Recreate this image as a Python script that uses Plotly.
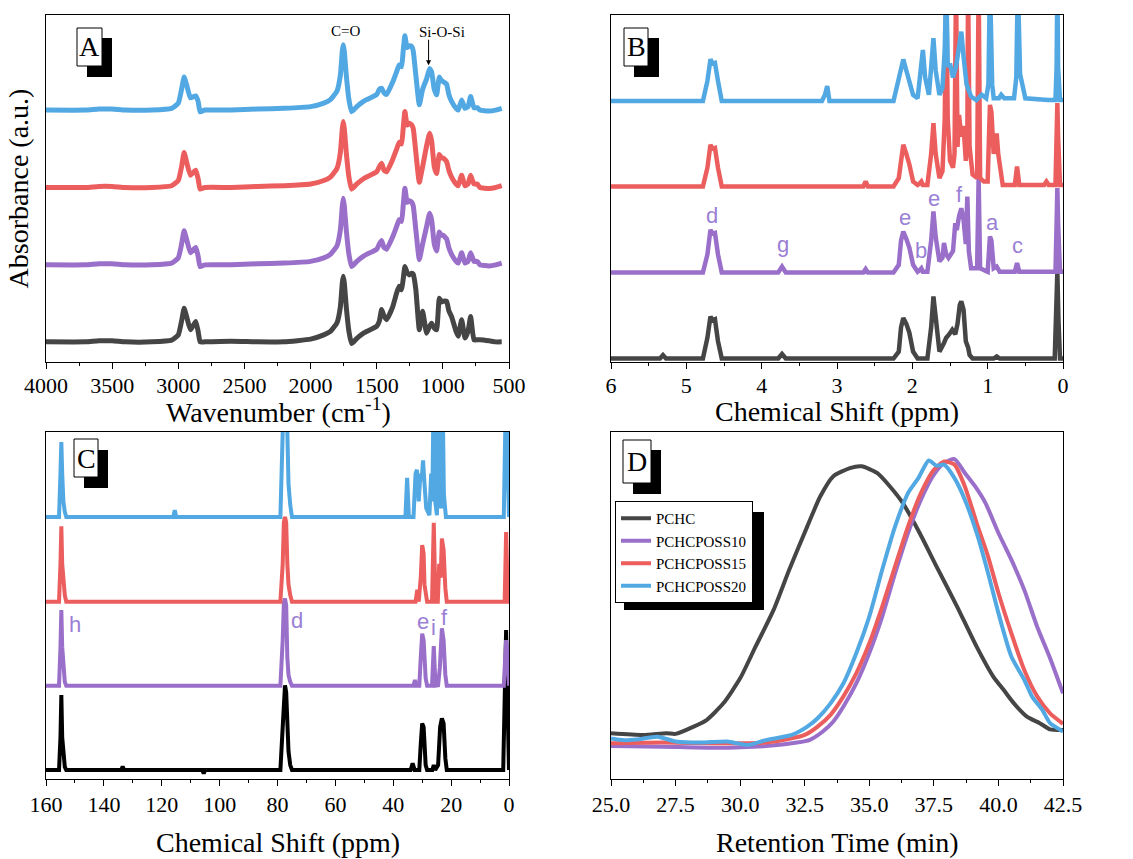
import plotly.graph_objects as go

W, H = 1133, 859

# ---------------- Panel A: FTIR ----------------
ftir_wn = [4000, 3700, 3600, 3500, 3400, 3200, 3050, 3000, 2975, 2956, 2935, 2908, 2868, 2850, 2835,
           2800, 2600, 2400, 2200, 2000, 1900, 1850, 1800, 1775, 1760, 1753, 1745, 1730, 1710, 1690,
           1650, 1600, 1577, 1500, 1480, 1463, 1445, 1425, 1380, 1350, 1330, 1312, 1300, 1287, 1270,
           1254, 1235, 1224, 1204, 1178, 1153, 1123, 1100, 1085, 1065, 1047, 1027, 1010, 997, 972,
           955, 934, 900, 884, 858, 833, 810, 790, 765, 740, 720, 650, 600, 555]
ftir_pchc = [0, 0, 0.3, 0.3, 0, 0, 0.5, 2, 6, 9.7, 7, 3.5, 5.9, 3, 0,
             0, 0.2, 0, 0, 0.8, 2, 3, 5.5, 10, 17, 18.9, 17, 10, 3, -0.5,
             1, 2.5, 3, 4.5, 6, 9.3, 7.5, 6.4, 10, 14, 16, 15, 18, 21.7, 20,
             19.3, 19.8, 19.5, 15, 3.5, 8.8, 2.5, 4.5, 5.4, 4, 3.5, 12.6, 11.5, 11.7, 11.7,
             9, 7.3, 3, 1.6, 6.4, 1.1, 3, 7.3, 0.6, 0.6, 0.6, 0.3, 0, 0]
ftir_poss10 = [0, 0, 0.3, 0.3, 0, 0, 0.5, 2, 6, 9.8, 7, 3.5, 5.0, 2.5, -0.5,
               0, 0, 0.3, 0.5, 1, 2, 3, 5.5, 10, 17, 19.2, 17, 10, 3, -0.5,
               1, 2.5, 3, 4.5, 6, 7.0, 5, 4.5, 8, 11, 13, 12.5, 17, 22.1, 18,
               18.5, 18, 17, 10, 1.5, 6, 11, 14.9, 13, 6, 4, 9.5, 8.5, 8.5, 7.5,
               5, 3, 1, 0.5, 3.5, 0.5, 1, 3.5, 1, 1, 0, -0.3, 0, 0.5]
ftir_poss15 = [0, 0, 0.3, 0.3, 0, 0, 0.5, 2, 6, 10.1, 7, 3.5, 5.0, 2.5, -0.5,
               0, 0, 0.3, 0.5, 1, 2, 3, 5.5, 10, 17, 19.0, 17, 10, 3, -0.5,
               1, 2.5, 3, 4.5, 6, 7.0, 5, 4.5, 8, 11, 13, 12.5, 17, 21.9, 18,
               18.5, 18, 17, 10, 1.5, 6, 12, 15.6, 13.5, 6, 4, 9.5, 8.5, 8.5, 7.5,
               5, 3, 1, 0.5, 3.5, 0.5, 1, 3.5, 1, 1, 0, -0.3, 0, 0.5]
ftir_poss20 = [0, 0, 0.3, 0.3, 0, 0, 0.5, 2, 6, 9.5, 7, 3.5, 4.1, 2.5, -0.5,
               0, 0, 0.3, 0.5, 1, 2, 3, 5.5, 10, 17, 18.8, 17, 10, 3, -0.5,
               1, 2.5, 3, 4.5, 6, 6.3, 5, 4.5, 8, 11, 13, 12.5, 17, 21.4, 18,
               18.5, 18.3, 17, 10, 1.5, 6, 9, 12.0, 11, 6, 4.4, 9.5, 8.5, 8.2, 7.5,
               4.5, 2.5, 0.5, 0, 2.9, 0.5, 1, 3.9, 0.7, 0.7, 0, -0.3, 0, 0.5]
ftir_offsets = [5.8, 28.0, 50.3, 72.6]   # stacking baselines (PCHC, POSS10, POSS15, POSS20)

# ---------------- Panel B: 1H NMR ----------------
hB_gray_x = [6.0, 5.35, 5.31, 5.27, 4.78, 4.72, 4.68, 4.65, 4.62, 4.58, 4.53, 3.78, 3.73, 3.68,
             2.25, 2.18, 2.15, 2.12, 2.08, 2.04, 1.99, 1.93, 1.80, 1.75, 1.72, 1.69, 1.64, 1.58,
             1.55, 1.51, 1.47, 1.43, 1.40, 1.37, 1.35, 1.32, 1.29, 1.26, 1.24, 1.20, 0.92, 0.88,
             0.84, 0.11, 0.09, 0.075, 0.06, 0.04, 0.0]
hB_gray_y = [1.0, 1.0, 2.0, 1.0, 1.0, 7, 13.1, 12, 12.3, 6, 1.0, 1.0, 2.3, 1.0,
             1.0, 3, 10, 12.7, 11, 8.5, 3, 1.0, 1.0, 10, 18.9, 12, 3, 5.5,
             7, 8, 9.3, 8, 11, 16.5, 17.5, 15, 6, 4.2, 2, 1.0, 1.0, 1.6,
             1.0, 1.0, 12, 26, 12, 1.0, 1.0]
hB_purple_x = [6.0, 4.78, 4.72, 4.68, 4.65, 4.62, 4.58, 4.53, 3.78, 3.73, 3.68, 2.65, 2.62, 2.59,
               2.25, 2.18, 2.15, 2.12, 2.08, 2.04, 1.99, 1.93, 1.90, 1.88, 1.86, 1.80, 1.75, 1.72,
               1.69, 1.64, 1.60, 1.58, 1.55, 1.52, 1.49, 1.46, 1.43, 1.41, 1.38, 1.35, 1.32, 1.29,
               1.27, 1.25, 1.22, 1.14, 1.12, 1.10, 1.00, 0.97, 0.95, 0.92, 0.88, 0.84, 0.64, 0.61,
               0.58, 0.10, 0.085, 0.075, 0.065, 0.04, 0.0]
hB_purple_y = [25.8, 25.8, 31, 38.1, 37, 37.2, 31, 25.8, 25.8, 27.5, 25.8, 25.8, 26.8, 25.8,
               25.8, 28, 35, 37.6, 35.5, 33, 28, 26, 26.5, 27, 26, 26, 35, 43.4,
               36, 29, 30, 34.3, 31, 30, 31, 32, 40, 38, 42, 44.3, 41, 34,
               47.7, 32, 27, 27, 53, 27, 26, 36.2, 35, 27, 27.5, 26, 26, 28.5,
               26, 26, 40, 50.1, 40, 26, 26]
hB_red_x = [6.0, 4.78, 4.72, 4.68, 4.65, 4.62, 4.58, 4.53, 2.65, 2.62, 2.59, 2.25, 2.18, 2.15,
            2.12, 2.08, 2.04, 1.99, 1.93, 1.90, 1.88, 1.86, 1.80, 1.75, 1.72, 1.69, 1.64, 1.60,
            1.57, 1.55, 1.53, 1.50, 1.46, 1.44, 1.42, 1.40, 1.38, 1.35, 1.32, 1.29, 1.27, 1.26,
            1.24, 1.20, 1.14, 1.12, 1.10, 1.05, 1.00, 0.97, 0.95, 0.92, 0.90, 0.88, 0.86, 0.84,
            0.80, 0.64, 0.61, 0.58, 0.25, 0.22, 0.19, 0.10, 0.085, 0.075, 0.065, 0.04, 0.0]
hB_red_y = [50.6, 50.6, 56, 62.6, 61.5, 61.7, 56, 50.6, 50.6, 52, 50.6, 50.6, 53, 59,
            62.6, 60, 57, 52, 51, 51.5, 52, 51, 51, 60, 68.8, 60, 53, 55,
            70, 110, 70, 58, 56, 60, 110, 62, 71.2, 65, 68, 58, 64, 110,
            62, 54, 53, 110, 53, 52, 52, 74.1, 72, 60, 64, 65.9, 60, 56,
            51, 51, 56.3, 51, 51, 52, 51, 51, 65, 74.6, 65, 51, 51]
hB_blue_x = [6.0, 4.78, 4.72, 4.68, 4.65, 4.62, 4.58, 4.53, 3.20, 3.16, 3.13, 3.10, 2.25, 2.19,
             2.16, 2.12, 2.08, 2.04, 1.99, 1.93, 1.89, 1.86, 1.83, 1.78, 1.75, 1.72, 1.69, 1.64,
             1.60, 1.57, 1.55, 1.53, 1.50, 1.46, 1.42, 1.38, 1.35, 1.32, 1.28, 1.22, 1.15, 1.08,
             1.02, 0.99, 0.97, 0.94, 0.92, 0.85, 0.82, 0.78, 0.65, 0.62, 0.60, 0.57, 0.54, 0.50,
             0.20, 0.10, 0.085, 0.075, 0.065, 0.04, 0.0]
hB_blue_y = [75.2, 75.2, 81, 87.2, 86, 86.2, 81, 75.2, 75.2, 77, 79.5, 75.2, 75.2, 81,
             84, 87.2, 84, 81, 77, 76, 85, 89.9, 82, 77, 85, 93.3, 84, 77,
             79, 90, 110, 85, 86, 82, 85, 90, 95.2, 88, 80, 76.5, 75.5, 77,
             76, 80, 110, 80, 76, 76, 77, 76, 76, 82, 110, 83, 80, 76,
             75.5, 75.5, 85, 110, 85, 75.5, 75.5]
hB_labels = ["d", "g", "e", "b", "e", "f", "a", "c"]
hB_label_x = [4.66, 3.72, 2.10, 1.88, 1.71, 1.37, 0.94, 0.60]
hB_label_y = [42.1, 33.8, 41.5, 32.2, 47.2, 48.2, 40.2, 33.5]

# ---------------- Panel C: 13C NMR ----------------
cC_black_x = [160, 155.5, 155.0, 154.7, 154.4, 154.0, 153.5, 153.0, 134, 133.5, 133, 106, 105.5, 105,
              79, 78.2, 77.8, 77.4, 77.0, 76.6, 76.2, 75.6, 75.0, 34, 33.3, 32.6, 31, 30.5,
              30.0, 29.5, 29.2, 28.8, 28.3, 26.5, 26.0, 25.5, 24.5, 23.8, 23.2, 22.6, 22.0, 21.5,
              2.0, 1.3, 1.0, 0.7, 0.3, 0]
cC_black_y = [2.6, 2.6, 12, 24.2, 12, 6, 3.5, 2.6, 2.6, 3.6, 2.6, 2.6, 1.6, 2.6,
              2.6, 15, 25, 27, 25, 15, 8, 4, 2.6, 2.6, 4.5, 2.6, 2.6, 10,
              16, 15, 9, 4, 2.6, 2.6, 4, 2.6, 4, 15, 17.5, 16, 6, 2.6,
              2.6, 30, 42.9, 30, 2.6, 2.6]
cC_purple_x = [160, 155.5, 155.0, 154.7, 154.4, 154.0, 153.5, 153.0, 79, 78.2, 77.8, 77.4, 77.0, 76.6,
               76.2, 75.6, 75.0, 33, 32.5, 32, 31, 30.5, 30.0, 29.5, 29.2, 28.8, 28.3, 26.6,
               26.0, 25.4, 24.5, 23.9, 23.2, 22.6, 22.0, 21.5, 1.8, 1.3, 1.0, 0.7, 0.2, 0]
cC_purple_y = [26.9, 26.9, 38, 48.7, 38, 31, 28, 26.9, 26.9, 40, 51, 52, 50, 35,
               30, 28, 26.9, 26.9, 28.5, 26.9, 26.9, 35, 41.9, 40, 33, 29, 26.9, 26.9,
               38.3, 26.9, 27, 32, 43.4, 40, 30, 26.9, 26.9, 38, 40, 38, 26.9, 26.9]
cC_red_x = [160, 155.5, 155.0, 154.7, 154.4, 154.0, 153.5, 153.0, 79, 78.2, 77.8, 77.4, 77.0, 76.6,
            76.2, 75.6, 75.0, 32.3, 31.7, 31.2, 30.5, 30.0, 29.5, 29.2, 28.8, 28.3, 26.6, 26.0,
            25.4, 24.6, 24.1, 23.6, 23.2, 22.6, 22.0, 21.5, 1.5, 1.2, 1.0, 0.8, 0.4, 0]
cC_red_y = [51.1, 51.1, 62, 72.8, 62, 56, 53, 51.1, 51.1, 62, 74, 75.5, 74, 62,
            56, 53, 51.1, 51.1, 54.5, 51.1, 58, 67.4, 65, 56, 53, 51.1, 51.1, 73.8,
            51.1, 51.1, 62, 58, 69.3, 66, 55, 51.1, 51.1, 65, 71.2, 65, 51.1, 51.1]
cC_blue_x = [160, 155.5, 155.0, 154.7, 154.4, 154.0, 153.5, 153.0, 116, 115.5, 115, 79, 78.2, 77.8,
             77.4, 77.0, 76.6, 76.2, 75.6, 75.0, 35.8, 35.2, 34.6, 33.0, 32.3, 31.8, 31.2, 30.6,
             30.2, 29.7, 29.2, 28.6, 27.5, 26.9, 26.5, 26.0, 25.5, 24.9, 24.4, 23.9, 23.4, 23.0,
             22.5, 21.8, 1.8, 1.3, 1.0, 0.7, 0.2, 0]
cC_blue_y = [75.5, 75.5, 88, 97.1, 88, 80, 77, 75.5, 75.5, 77.5, 75.5, 75.5, 100, 115,
             115, 115, 100, 85, 79, 75.5, 75.5, 86.8, 75.5, 75.5, 88, 89.1, 80, 88,
             86, 91.8, 85, 78, 76, 88, 80, 115, 80, 76, 115, 80, 78, 115,
             82, 75.5, 75.5, 100, 115, 100, 75.5, 75.5]
cC_labels = ["h", "d", "e", "i", "f"]
cC_label_x = [150.1, 73.4, 29.6, 26.0, 22.4]
cC_label_y = [44.6, 45.8, 45.3, 43.6, 46.5]

# ---------------- Panel D: GPC ----------------
gpc_names = ["PCHC", "PCHCPOSS10", "PCHCPOSS15", "PCHCPOSS20"]
gpc_pchc_t = [25.0, 26.25, 27.15, 27.5, 28.2, 28.7, 29.35, 30.0, 30.6, 31.3, 31.9, 32.6, 33.1, 33.6,
              34.25, 34.7, 35.3, 35.8, 36.3, 36.95, 37.6, 38.4, 39.15, 39.8, 40.2, 40.6, 41.1, 41.6,
              42.0, 42.5]
gpc_pchc_y = [13.2, 12.7, 13.2, 13.0, 15.1, 17.0, 21.8, 29.0, 38.2, 48.8, 60.3, 72.8, 81.4, 87.2,
              89.6, 90.1, 88.2, 84.3, 79.5, 70.9, 61.3, 49.7, 38.2, 29.5, 25.7, 21.8, 18.0, 16.1,
              14.3, 14.1]
gpc_p10_t = [25.0, 27.0, 29.0, 31.0, 32.2, 32.7, 33.2, 33.6, 34.0, 34.5, 35.0, 35.5, 36.0, 36.5,
             37.0, 37.5, 37.9, 38.3, 38.7, 39.1, 39.5, 40.0, 40.5, 41.0, 41.5, 42.0, 42.5]
gpc_p10_y = [9.5, 9.3, 9.0, 9.5, 10.5, 11.3, 13.7, 16.5, 20.9, 27.6, 36.3, 46.8, 59.3, 70.9,
             80.5, 87.7, 91.1, 92.2, 88.2, 84.3, 79.5, 70.9, 63.2, 54.5, 43.9, 34.8, 24.7]
gpc_p15_t = [25.0, 27.0, 29.0, 31.0, 32.0, 32.5, 33.0, 33.5, 34.0, 34.5, 35.0, 35.5, 36.0, 36.5,
             37.0, 37.5, 37.9, 38.3, 38.7, 39.2, 39.6, 40.0, 40.5, 41.0, 41.5, 42.0, 42.5]
gpc_p15_y = [10.3, 10.5, 10.3, 10.5, 11.7, 12.7, 15.1, 18.5, 23.8, 30.5, 39.1, 49.7, 61.3, 72.8,
             82.4, 89.1, 91.5, 90.6, 84.3, 72.8, 64.1, 53.6, 42.0, 31.4, 23.8, 18.9, 15.9]
gpc_p20_t = [25.0, 25.5, 26.0, 26.8, 27.5, 28.5, 29.5, 30.3, 31.0, 32.0, 32.6, 33.0, 33.5, 34.0,
             34.5, 35.0, 35.5, 36.0, 36.5, 36.9, 37.3, 37.6, 37.9, 38.3, 38.7, 39.2, 39.6, 40.0,
             40.5, 41.0, 41.3, 41.7, 42.0, 42.5]
gpc_p20_y = [11.7, 11.2, 11.4, 12.2, 10.8, 10.5, 10.8, 9.8, 11.2, 12.7, 15.1, 17.5, 21.8, 27.6,
             36.3, 46.8, 60.3, 72.8, 82.4, 86.7, 91.8, 90.3, 90.6, 86.7, 80.5, 69.9, 59.3, 47.8,
             35.3, 28.6, 23.8, 19.9, 16.1, 13.7]

# ---------------- styling ----------------
C_GRAY = "#454545"
C_PURPLE = "#9a6fca"
C_RED = "#ec5e5e"
C_BLUE = "#52a8e2"
C_BLACK = "#000000"
C_LABEL = "#9a80d4"
SERIF = "Liberation Serif, Times New Roman, serif"
SANS = "Liberation Sans, Arial, sans-serif"


def pdom(x0, x1, y0, y1):
    return [x0 / W, x1 / W], [1 - y1 / H, 1 - y0 / H]


def ppt(x, y):
    return x / W, 1 - y / H


fig = go.Figure()

axA_x, axA_y = pdom(46, 509, 15, 362)
axB_x, axB_y = pdom(611, 1063, 15, 362)
axC_x, axC_y = pdom(46, 509, 432, 779)
axD_x, axD_y = pdom(611, 1063, 432, 779)

# Panel A traces
for ys, off, col in [(ftir_pchc, ftir_offsets[0], C_GRAY), (ftir_poss10, ftir_offsets[1], C_PURPLE),
                     (ftir_poss15, ftir_offsets[2], C_RED), (ftir_poss20, ftir_offsets[3], C_BLUE)]:
    fig.add_trace(go.Scatter(x=ftir_wn, y=[v + off for v in ys], mode="lines",
                             line=dict(color=col, width=5, shape="spline", smoothing=0.4),
                             showlegend=False, xaxis="x", yaxis="y"))

# Panel B traces
for xs, ys, col in [(hB_gray_x, hB_gray_y, C_GRAY), (hB_purple_x, hB_purple_y, C_PURPLE),
                    (hB_red_x, hB_red_y, C_RED), (hB_blue_x, hB_blue_y, C_BLUE)]:
    fig.add_trace(go.Scatter(x=xs, y=ys, mode="lines", line=dict(color=col, width=4.5),
                             showlegend=False, xaxis="x2", yaxis="y2"))

# Panel C traces
for xs, ys, col in [(cC_black_x, cC_black_y, C_BLACK), (cC_purple_x, cC_purple_y, C_PURPLE),
                    (cC_red_x, cC_red_y, C_RED), (cC_blue_x, cC_blue_y, C_BLUE)]:
    fig.add_trace(go.Scatter(x=xs, y=ys, mode="lines", line=dict(color=col, width=4),
                             showlegend=False, xaxis="x3", yaxis="y3"))

# Panel D traces
for name, xs, ys, col in [(gpc_names[0], gpc_pchc_t, gpc_pchc_y, C_GRAY),
                          (gpc_names[1], gpc_p10_t, gpc_p10_y, C_PURPLE),
                          (gpc_names[2], gpc_p15_t, gpc_p15_y, C_RED),
                          (gpc_names[3], gpc_p20_t, gpc_p20_y, C_BLUE)]:
    fig.add_trace(go.Scatter(x=xs, y=ys, mode="lines", name=name,
                             line=dict(color=col, width=4, shape="spline", smoothing=0.6),
                             xaxis="x4", yaxis="y4"))

tickfont = dict(family=SERIF, size=22, color="black")
titlefont = dict(family=SERIF, size=28, color="black")


def xax(dom, rng, dtick, mdtick, anchor, fmt=None, lblshift=0):
    d = dict(domain=dom, range=rng, anchor=anchor, showline=True, mirror=True,
             linecolor="black", linewidth=1, ticks="outside", ticklen=6, tickwidth=1,
             tickcolor="black", dtick=dtick, tick0=0, showgrid=False, zeroline=False,
             automargin=False, tickfont=tickfont, ticklabelstandoff=lblshift,
             minor=dict(ticks="outside", ticklen=3, dtick=mdtick, tickcolor="black", showgrid=False))
    if fmt:
        d["tickformat"] = fmt
    return d


def yax(dom, anchor, title=None):
    d = dict(domain=dom, range=[0, 100], anchor=anchor, showline=True, mirror=True,
             linecolor="black", linewidth=1, ticks="", showticklabels=False,
             showgrid=False, zeroline=False, automargin=False)
    if title:
        d["title"] = dict(text=title, font=titlefont, standoff=8)
    return d


fig.update_layout(
    width=W, height=H, margin=dict(l=0, r=0, t=0, b=0, autoexpand=False),
    plot_bgcolor="white", paper_bgcolor="white",
    xaxis=xax(axA_x, [4000, 500], 500, 250, "y", lblshift=-2),
    yaxis=yax(axA_y, "x", "Absorbance (a.u.)"),
    xaxis2=xax(axB_x, [6, 0], 1, 0.5, "y2", lblshift=-2),
    yaxis2=yax(axB_y, "x2"),
    xaxis3=xax(axC_x, [160, 0], 20, 10, "y3"),
    yaxis3=yax(axC_y, "x3"),
    xaxis4=xax(axD_x, [25, 42.5], 2.5, 1.25, "y4", ".1f"),
    yaxis4=yax(axD_y, "x4"),
    legend=dict(x=615 / W, y=1 - 501 / H, xanchor="left", yanchor="top",
                bgcolor="white", bordercolor="black", borderwidth=1,
                font=dict(family=SERIF, size=15, color="black"), tracegroupgap=0,
                itemwidth=30),
)

shapes = []
annotations = []

# x-axis titles
for text, cx, cy in [("Wavenumber (cm<sup>-1</sup>)", 278, 410),
                     ("Chemical Shift (ppm)", 837, 411),
                     ("Chemical Shift (ppm)", 278, 842),
                     ("Retention Time (min)", 837, 842)]:
    px, py = ppt(cx, cy)
    annotations.append(dict(text=text, xref="paper", yref="paper", x=px, y=py,
                            xanchor="center", yanchor="middle", showarrow=False, font=titlefont))

# Panel letter boxes with black drop shadows
for letter, box, shadow in [("A", (77, 28, 102, 66), (87, 38, 112, 77)),
                            ("B", (624, 28, 648, 66), (634, 38, 659, 77)),
                            ("C", (74, 439, 98, 477), (84, 450, 108, 488)),
                            ("D", (623, 440, 651, 483), (633, 450, 661, 494))]:
    sx0, sy1 = ppt(shadow[0], shadow[1])
    sx1, sy0 = ppt(shadow[2], shadow[3])
    shapes.append(dict(type="rect", xref="paper", yref="paper", x0=sx0, x1=sx1, y0=sy0, y1=sy1,
                       fillcolor="black", line=dict(width=0), layer="above"))
    bx0, by1 = ppt(box[0], box[1])
    bx1, by0 = ppt(box[2], box[3])
    shapes.append(dict(type="rect", xref="paper", yref="paper", x0=bx0, x1=bx1, y0=by0, y1=by1,
                       fillcolor="white", line=dict(color="black", width=1), layer="above"))
    cx, cy = ppt((box[0] + box[2]) / 2, (box[1] + box[3]) / 2)
    annotations.append(dict(text=letter, xref="paper", yref="paper", x=cx, y=cy,
                            xanchor="center", yanchor="middle", showarrow=False,
                            font=dict(family=SERIF, size=28, color="black")))

# Legend shadow in panel D
lx0, ly1 = ppt(624, 512)
lx1, ly0 = ppt(764, 610)
shapes.append(dict(type="rect", xref="paper", yref="paper", x0=lx0, x1=lx1, y0=ly0, y1=ly1,
                   fillcolor="black", line=dict(width=0), layer="above"))

# FTIR annotations
annotations.append(dict(text="C=O", x=1735, y=95.5, xref="x", yref="y", showarrow=False,
                        font=dict(family=SERIF, size=15, color="black")))
annotations.append(dict(text="Si-O-Si", x=1010, y=95.2, xref="x", yref="y", showarrow=False,
                        font=dict(family=SERIF, size=15, color="black")))
annotations.append(dict(text="", x=1108, y=85.5, ax=1108, ay=93.3, xref="x", yref="y",
                        axref="x", ayref="y", showarrow=True, arrowhead=2, arrowsize=1,
                        arrowwidth=1, arrowcolor="black"))

for t, xv, yv in zip(hB_labels, hB_label_x, hB_label_y):
    annotations.append(dict(text=t, x=xv, y=yv, xref="x2", yref="y2", showarrow=False,
                            font=dict(family=SANS, size=22, color=C_LABEL)))
for t, xv, yv in zip(cC_labels, cC_label_x, cC_label_y):
    annotations.append(dict(text=t, x=xv, y=yv, xref="x3", yref="y3", showarrow=False,
                            font=dict(family=SANS, size=22, color=C_LABEL)))

fig.update_layout(shapes=shapes, annotations=annotations)
fig.write_html("out.html", config={"displayModeBar": False},
               post_script="document.body.style.margin='0';")
